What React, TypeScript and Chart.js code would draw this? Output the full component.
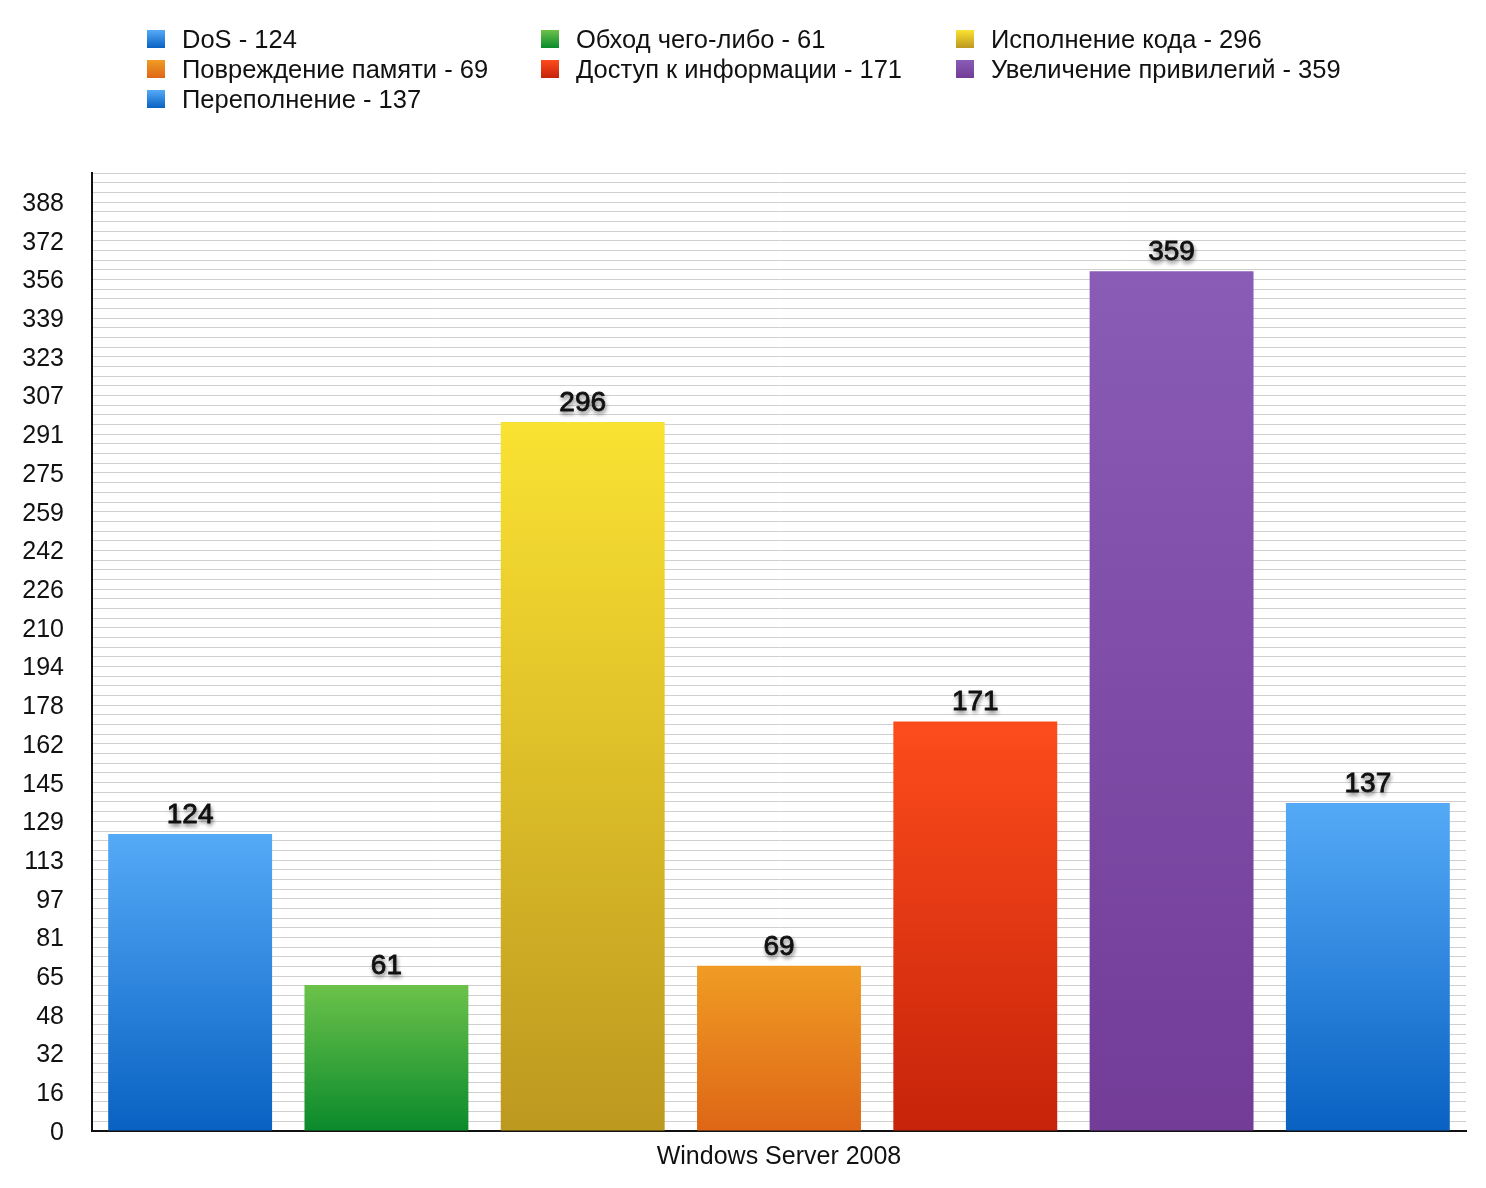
import React, { useEffect, useRef } from "react";
import { Chart, registerables } from "chart.js";

Chart.register(...registerables);

const CATEGORY = ["Windows Server 2008"];
const SERIES_NAMES = [
  "DoS",
  "Обход чего-либо",
  "Исполнение кода",
  "Повреждение памяти",
  "Доступ к информации",
  "Увеличение привилегий",
  "Переполнение",
];
const SERIES_VALUES = [124, 61, 296, 69, 171, 359, 137];
const TOP_COLORS = ["#55aaf7", "#6cc24a", "#fae232", "#f09c24", "#fd4c1c", "#8a5cb5", "#55aaf7"];
const BOTTOM_COLORS = ["#0961c2", "#0a8a2c", "#bd981f", "#de6616", "#c6230a", "#723c97", "#0961c2"];
const TICK_LABELS = [
  "0", "16", "32", "48", "65", "81", "97", "113", "129", "145", "162", "178", "194",
  "210", "226", "242", "259", "275", "291", "307", "323", "339", "356", "372", "388",
];
const Y_MAX = 400;
const GRID_LINES = 99;

// legend layout: 3 columns, row-major
const LEGEND_COL_X = [147, 541, 956];
const LEGEND_ROW_Y = [39, 69, 99];

const FONT = '"Liberation Sans", Arial, Helvetica, sans-serif';

const valueLabels = {
  id: "valueLabels",
  afterDatasetsDraw(chart: any) {
    const ctx = chart.ctx;
    chart.data.datasets.forEach((ds: any, i: number) => {
      const meta = chart.getDatasetMeta(i);
      meta.data.forEach((el: any, j: number) => {
        const v = ds.data[j];
        ctx.save();
        ctx.font = `28px ${FONT}`;
        ctx.textAlign = "center";
        ctx.textBaseline = "alphabetic";
        ctx.shadowColor = "rgba(0,0,0,0.65)";
        ctx.shadowBlur = 4;
        ctx.shadowOffsetX = 1;
        ctx.shadowOffsetY = 3;
        ctx.fillStyle = "#111";
        ctx.fillText(String(v), el.x, el.y - 11);
        ctx.lineWidth = 0.8;
        ctx.strokeStyle = "#111";
        ctx.shadowColor = "rgba(0,0,0,0)";
        ctx.strokeText(String(v), el.x, el.y - 11);
        ctx.restore();
      });
    });
  },
};

export default function App() {
  const ref = useRef<HTMLCanvasElement | null>(null);

  useEffect(() => {
    if (!ref.current) return;
    const datasets = SERIES_NAMES.map((name, i) => ({
      label: `${name} - ${SERIES_VALUES[i]}`,
      data: [SERIES_VALUES[i]],
      backgroundColor: (c: any) => {
        const chart = c.chart;
        if (!chart.chartArea || c.type !== "data") return TOP_COLORS[i];
        const y = chart.scales.y;
        const yTop = y.getPixelForValue(c.raw as number);
        const yBot = y.getPixelForValue(0);
        const g = chart.ctx.createLinearGradient(0, yTop, 0, yBot);
        g.addColorStop(0, TOP_COLORS[i]);
        g.addColorStop(1, BOTTOM_COLORS[i]);
        return g;
      },
      borderWidth: 0,
      barPercentage: 0.835,
      categoryPercentage: 1,
    }));

    const chart = new Chart(ref.current, {
      type: "bar",
      data: { labels: CATEGORY, datasets },
      options: {
        responsive: false,
        animation: false,
        layout: { padding: { top: 173, right: 20, left: 0, bottom: 0 } },
        plugins: {
          legend: { display: false },
          tooltip: { enabled: false },
        },
        scales: {
          x: {
            grid: { display: false, drawTicks: false },
            border: { display: true, color: "#111", width: 2 },
            ticks: { font: { family: FONT, size: 25 }, color: "#111", padding: 11 },
            afterFit: (s: any) => {
              s.height = 57;
            },
          },
          y: {
            min: 0,
            max: Y_MAX,
            grid: { color: "#d0d0d0", lineWidth: 1, drawTicks: false },
            border: { display: true, color: "#111", width: 2 },
            ticks: {
              stepSize: Y_MAX / GRID_LINES,
              autoSkip: false,
              padding: 28,
              labelOffset: 2,
              font: { family: FONT, size: 25 },
              color: "#111",
              callback: (_v: any, idx: number) => (idx % 4 === 0 ? TICK_LABELS[idx / 4] ?? "" : ""),
            },
            afterFit: (s: any) => {
              s.width = 92;
            },
          },
        },
      },
      plugins: [valueLabels],
    });
    return () => chart.destroy();
  }, []);

  return (
    <div
      style={{
        position: "fixed",
        left: 0,
        top: 0,
        width: 1486,
        height: 1188,
        background: "#fff",
        overflow: "hidden",
      }}
    >
      <canvas ref={ref} width={1486} height={1188} style={{ position: "absolute", left: 0, top: 0 }} />
      {SERIES_NAMES.map((name, i) => {
        const col = i % 3;
        const row = Math.floor(i / 3);
        return (
          <div
            key={i}
            style={{
              position: "absolute",
              left: LEGEND_COL_X[col],
              top: LEGEND_ROW_Y[row] - 15,
              height: 30,
              display: "flex",
              alignItems: "center",
              whiteSpace: "nowrap",
              fontFamily: FONT,
              fontSize: 25.5,
              color: "#111",
            }}
          >
            <span
              style={{
                display: "inline-block",
                width: 18,
                height: 18,
                marginRight: 17,
                background: `linear-gradient(${TOP_COLORS[i]}, ${BOTTOM_COLORS[i]})`,
              }}
            />
            <span>{`${name} - ${SERIES_VALUES[i]}`}</span>
          </div>
        );
      })}
    </div>
  );
}
